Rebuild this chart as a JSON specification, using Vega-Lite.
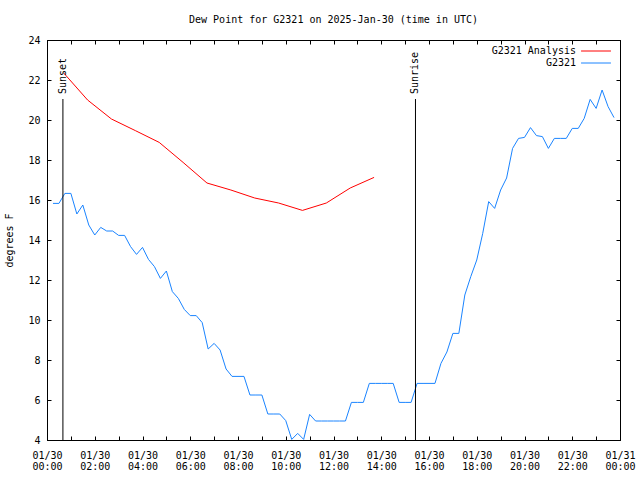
{
  "$schema": "https://vega.github.io/schema/vega-lite/v6.json",
  "width": 573,
  "height": 400,
  "autosize": {"type": "none"},
  "padding": {"left": 47, "top": 40, "right": 20, "bottom": 40},
  "background": "white",
  "title": {"text": "Dew Point for G2321 on 2025-Jan-30 (time in UTC)", "font": "DejaVu Sans Mono", "fontSize": 10, "fontWeight": "normal", "color": "black", "offset": 10},
  "config": {
    "font": "DejaVu Sans Mono",
    "view": {"stroke": "black", "strokeWidth": 1},
    "axis": {"grid": false, "domainColor": "black", "tickColor": "black", "labelColor": "black", "titleColor": "black", "labelFont": "DejaVu Sans Mono", "labelFontSize": 10, "titleFont": "DejaVu Sans Mono", "titleFontSize": 10, "titleFontWeight": "normal", "tickSize": -4, "domain": true},
    "legend": {"labelFont": "DejaVu Sans Mono", "labelFontSize": 10, "labelColor": "black"}
  },
  "datasets": {
    "obs": [
      {"s": "G2321 Analysis", "t": "2025-01-30T00:42:00Z", "v": 22.35},
      {"s": "G2321 Analysis", "t": "2025-01-30T01:42:00Z", "v": 21.0},
      {"s": "G2321 Analysis", "t": "2025-01-30T02:42:00Z", "v": 20.05},
      {"s": "G2321 Analysis", "t": "2025-01-30T03:42:00Z", "v": 19.47},
      {"s": "G2321 Analysis", "t": "2025-01-30T04:42:00Z", "v": 18.88},
      {"s": "G2321 Analysis", "t": "2025-01-30T05:42:00Z", "v": 17.88},
      {"s": "G2321 Analysis", "t": "2025-01-30T06:42:00Z", "v": 16.85},
      {"s": "G2321 Analysis", "t": "2025-01-30T07:42:00Z", "v": 16.5},
      {"s": "G2321 Analysis", "t": "2025-01-30T08:42:00Z", "v": 16.1},
      {"s": "G2321 Analysis", "t": "2025-01-30T09:42:00Z", "v": 15.85},
      {"s": "G2321 Analysis", "t": "2025-01-30T10:42:00Z", "v": 15.48},
      {"s": "G2321 Analysis", "t": "2025-01-30T11:42:00Z", "v": 15.85},
      {"s": "G2321 Analysis", "t": "2025-01-30T12:42:00Z", "v": 16.6},
      {"s": "G2321 Analysis", "t": "2025-01-30T13:42:00Z", "v": 17.13},
      {"s": "G2321", "t": "2025-01-30T00:15:00Z", "v": 15.83},
      {"s": "G2321", "t": "2025-01-30T00:30:00Z", "v": 15.83},
      {"s": "G2321", "t": "2025-01-30T00:45:00Z", "v": 16.33},
      {"s": "G2321", "t": "2025-01-30T01:00:00Z", "v": 16.33},
      {"s": "G2321", "t": "2025-01-30T01:15:00Z", "v": 15.3},
      {"s": "G2321", "t": "2025-01-30T01:30:00Z", "v": 15.75},
      {"s": "G2321", "t": "2025-01-30T01:45:00Z", "v": 14.75},
      {"s": "G2321", "t": "2025-01-30T02:00:00Z", "v": 14.25},
      {"s": "G2321", "t": "2025-01-30T02:15:00Z", "v": 14.63},
      {"s": "G2321", "t": "2025-01-30T02:30:00Z", "v": 14.45},
      {"s": "G2321", "t": "2025-01-30T02:45:00Z", "v": 14.45},
      {"s": "G2321", "t": "2025-01-30T03:00:00Z", "v": 14.23},
      {"s": "G2321", "t": "2025-01-30T03:15:00Z", "v": 14.23},
      {"s": "G2321", "t": "2025-01-30T03:30:00Z", "v": 13.67},
      {"s": "G2321", "t": "2025-01-30T03:45:00Z", "v": 13.28},
      {"s": "G2321", "t": "2025-01-30T04:00:00Z", "v": 13.63},
      {"s": "G2321", "t": "2025-01-30T04:15:00Z", "v": 13.03},
      {"s": "G2321", "t": "2025-01-30T04:30:00Z", "v": 12.67},
      {"s": "G2321", "t": "2025-01-30T04:45:00Z", "v": 12.08},
      {"s": "G2321", "t": "2025-01-30T05:00:00Z", "v": 12.45},
      {"s": "G2321", "t": "2025-01-30T05:15:00Z", "v": 11.42},
      {"s": "G2321", "t": "2025-01-30T05:30:00Z", "v": 11.08},
      {"s": "G2321", "t": "2025-01-30T05:45:00Z", "v": 10.53},
      {"s": "G2321", "t": "2025-01-30T06:00:00Z", "v": 10.22},
      {"s": "G2321", "t": "2025-01-30T06:15:00Z", "v": 10.22},
      {"s": "G2321", "t": "2025-01-30T06:30:00Z", "v": 9.87},
      {"s": "G2321", "t": "2025-01-30T06:45:00Z", "v": 8.55},
      {"s": "G2321", "t": "2025-01-30T07:00:00Z", "v": 8.83},
      {"s": "G2321", "t": "2025-01-30T07:15:00Z", "v": 8.5},
      {"s": "G2321", "t": "2025-01-30T07:30:00Z", "v": 7.55},
      {"s": "G2321", "t": "2025-01-30T07:45:00Z", "v": 7.18},
      {"s": "G2321", "t": "2025-01-30T08:00:00Z", "v": 7.18},
      {"s": "G2321", "t": "2025-01-30T08:15:00Z", "v": 7.18},
      {"s": "G2321", "t": "2025-01-30T08:30:00Z", "v": 6.25},
      {"s": "G2321", "t": "2025-01-30T08:45:00Z", "v": 6.25},
      {"s": "G2321", "t": "2025-01-30T09:00:00Z", "v": 6.25},
      {"s": "G2321", "t": "2025-01-30T09:15:00Z", "v": 5.3},
      {"s": "G2321", "t": "2025-01-30T09:30:00Z", "v": 5.3},
      {"s": "G2321", "t": "2025-01-30T09:45:00Z", "v": 5.3},
      {"s": "G2321", "t": "2025-01-30T10:00:00Z", "v": 4.97},
      {"s": "G2321", "t": "2025-01-30T10:15:00Z", "v": 4.03},
      {"s": "G2321", "t": "2025-01-30T10:30:00Z", "v": 4.33},
      {"s": "G2321", "t": "2025-01-30T10:45:00Z", "v": 4.03},
      {"s": "G2321", "t": "2025-01-30T11:00:00Z", "v": 5.28},
      {"s": "G2321", "t": "2025-01-30T11:15:00Z", "v": 4.95},
      {"s": "G2321", "t": "2025-01-30T11:30:00Z", "v": 4.95},
      {"s": "G2321", "t": "2025-01-30T11:45:00Z", "v": 4.95},
      {"s": "G2321", "t": "2025-01-30T12:00:00Z", "v": 4.95},
      {"s": "G2321", "t": "2025-01-30T12:15:00Z", "v": 4.95},
      {"s": "G2321", "t": "2025-01-30T12:30:00Z", "v": 4.95},
      {"s": "G2321", "t": "2025-01-30T12:45:00Z", "v": 5.88},
      {"s": "G2321", "t": "2025-01-30T13:00:00Z", "v": 5.88},
      {"s": "G2321", "t": "2025-01-30T13:15:00Z", "v": 5.88},
      {"s": "G2321", "t": "2025-01-30T13:30:00Z", "v": 6.83},
      {"s": "G2321", "t": "2025-01-30T13:45:00Z", "v": 6.83},
      {"s": "G2321", "t": "2025-01-30T14:00:00Z", "v": 6.83},
      {"s": "G2321", "t": "2025-01-30T14:15:00Z", "v": 6.83},
      {"s": "G2321", "t": "2025-01-30T14:30:00Z", "v": 6.83},
      {"s": "G2321", "t": "2025-01-30T14:45:00Z", "v": 5.88},
      {"s": "G2321", "t": "2025-01-30T15:00:00Z", "v": 5.88},
      {"s": "G2321", "t": "2025-01-30T15:15:00Z", "v": 5.88},
      {"s": "G2321", "t": "2025-01-30T15:30:00Z", "v": 6.83},
      {"s": "G2321", "t": "2025-01-30T15:45:00Z", "v": 6.83},
      {"s": "G2321", "t": "2025-01-30T16:00:00Z", "v": 6.83},
      {"s": "G2321", "t": "2025-01-30T16:15:00Z", "v": 6.83},
      {"s": "G2321", "t": "2025-01-30T16:30:00Z", "v": 7.83},
      {"s": "G2321", "t": "2025-01-30T16:45:00Z", "v": 8.4},
      {"s": "G2321", "t": "2025-01-30T17:00:00Z", "v": 9.33},
      {"s": "G2321", "t": "2025-01-30T17:15:00Z", "v": 9.33},
      {"s": "G2321", "t": "2025-01-30T17:30:00Z", "v": 11.25},
      {"s": "G2321", "t": "2025-01-30T17:45:00Z", "v": 12.17},
      {"s": "G2321", "t": "2025-01-30T18:00:00Z", "v": 13.0},
      {"s": "G2321", "t": "2025-01-30T18:15:00Z", "v": 14.33},
      {"s": "G2321", "t": "2025-01-30T18:30:00Z", "v": 15.92},
      {"s": "G2321", "t": "2025-01-30T18:45:00Z", "v": 15.58},
      {"s": "G2321", "t": "2025-01-30T19:00:00Z", "v": 16.5},
      {"s": "G2321", "t": "2025-01-30T19:15:00Z", "v": 17.1},
      {"s": "G2321", "t": "2025-01-30T19:30:00Z", "v": 18.58},
      {"s": "G2321", "t": "2025-01-30T19:45:00Z", "v": 19.08},
      {"s": "G2321", "t": "2025-01-30T20:00:00Z", "v": 19.13},
      {"s": "G2321", "t": "2025-01-30T20:15:00Z", "v": 19.62},
      {"s": "G2321", "t": "2025-01-30T20:30:00Z", "v": 19.22},
      {"s": "G2321", "t": "2025-01-30T20:45:00Z", "v": 19.17},
      {"s": "G2321", "t": "2025-01-30T21:00:00Z", "v": 18.58},
      {"s": "G2321", "t": "2025-01-30T21:15:00Z", "v": 19.08},
      {"s": "G2321", "t": "2025-01-30T21:30:00Z", "v": 19.08},
      {"s": "G2321", "t": "2025-01-30T21:45:00Z", "v": 19.08},
      {"s": "G2321", "t": "2025-01-30T22:00:00Z", "v": 19.58},
      {"s": "G2321", "t": "2025-01-30T22:15:00Z", "v": 19.58},
      {"s": "G2321", "t": "2025-01-30T22:30:00Z", "v": 20.08},
      {"s": "G2321", "t": "2025-01-30T22:45:00Z", "v": 21.03},
      {"s": "G2321", "t": "2025-01-30T23:00:00Z", "v": 20.58},
      {"s": "G2321", "t": "2025-01-30T23:15:00Z", "v": 21.5},
      {"s": "G2321", "t": "2025-01-30T23:30:00Z", "v": 20.67},
      {"s": "G2321", "t": "2025-01-30T23:45:00Z", "v": 20.12}
    ],
    "sun": [
      {"t": "2025-01-30T00:40:00Z", "label": "Sunset"},
      {"t": "2025-01-30T15:26:00Z", "label": "Sunrise"}
    ]
  },
  "layer": [
    {
      "data": {"name": "obs"},
      "mark": {"type": "line", "strokeWidth": 1},
      "encoding": {
        "x": {"field": "t", "type": "temporal",
          "scale": {"type": "utc", "domain": ["2025-01-30T00:00:00Z", "2025-01-31T00:00:00Z"], "nice": false},
          "axis": {"orient": "bottom", "title": null, "tickCount": 24, "labelOverlap": false, "labelFlush": false, "labelBaseline": "top", "labelLineHeight": 11, "labelPadding": 14,
            "labelExpr": "utchours(datum.value) % 2 == 0 ? [utcFormat(datum.value, '%m/%d'), utcFormat(datum.value, '%H:%M')] : ''"}},
        "y": {"field": "v", "type": "quantitative",
          "scale": {"domain": [4, 24], "nice": false, "zero": false},
          "axis": {"orient": "left", "title": "degrees F", "values": [4, 6, 8, 10, 12, 14, 16, 18, 20, 22, 24], "labelPadding": 11, "titlePadding": 13}},
        "color": {"field": "s", "type": "nominal",
          "scale": {"domain": ["G2321 Analysis", "G2321"], "range": ["#ff0000", "#1a84ff"]},
          "legend": {"orient": "none", "legendX": 542, "legendY": 4, "title": null, "symbolType": "M-2.3,0L2.3,0", "symbolSize": 169, "symbolStrokeWidth": 1, "symbolFillColor": "transparent", "labelAlign": "right", "labelOffset": -27, "padding": 0, "rowPadding": 0}}
      }
    },
    {
      "data": {"name": "sun"},
      "mark": {"type": "rule", "color": "black", "strokeWidth": 1},
      "encoding": {
        "x": {"field": "t", "type": "temporal",
          "scale": {"type": "utc", "domain": ["2025-01-30T00:00:00Z", "2025-01-31T00:00:00Z"], "nice": false},
          "axis": {"orient": "top", "title": null, "labels": false, "tickCount": 24}},
        "y": {"datum": 4, "type": "quantitative",
          "scale": {"domain": [4, 24], "nice": false, "zero": false},
          "axis": {"orient": "right", "title": null, "labels": false, "values": [4, 6, 8, 10, 12, 14, 16, 18, 20, 22, 24]}},
        "y2": {"datum": 21.05}
      }
    },
    {
      "data": {"name": "sun"},
      "mark": {"type": "text", "angle": 270, "align": "left", "baseline": "middle", "font": "DejaVu Sans Mono", "fontSize": 10, "color": "black"},
      "encoding": {
        "x": {"field": "t", "type": "temporal",
          "scale": {"type": "utc", "domain": ["2025-01-30T00:00:00Z", "2025-01-31T00:00:00Z"], "nice": false},
          "axis": null},
        "y": {"datum": 21.3, "type": "quantitative",
          "scale": {"domain": [4, 24], "nice": false, "zero": false},
          "axis": null},
        "text": {"field": "label"}
      }
    }
  ],
  "resolve": {"scale": {"x": "independent", "y": "independent"}}
}
